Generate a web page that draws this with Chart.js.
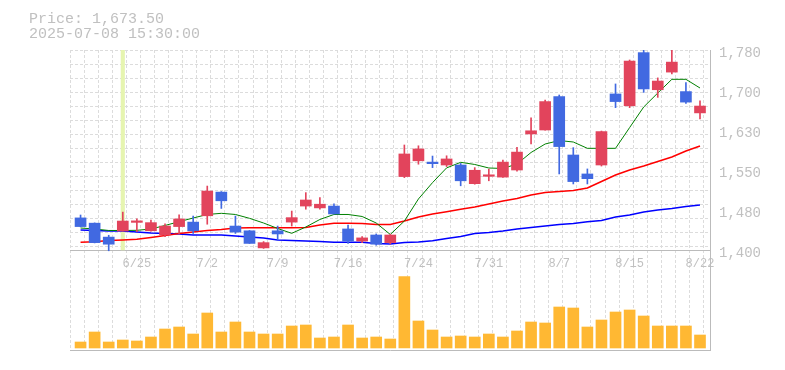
<!DOCTYPE html>
<html><head><meta charset="utf-8">
<script src="https://cdn.jsdelivr.net/npm/chart.js@4/dist/chart.umd.min.js"></script>
<style>html,body{margin:0;padding:0;background:#fff;}canvas{display:block;}</style>
</head><body>
<canvas id="c" width="785" height="370"></canvas>
<script>
const dates = ['6/19','6/20','6/23','6/24','6/25','6/26','6/27','6/30','7/1','7/2','7/3','7/4','7/7','7/8','7/9','7/10','7/11','7/14','7/15','7/16','7/17','7/18','7/22','7/23','7/24','7/25','7/28','7/29','7/30','7/31','8/1','8/4','8/5','8/6','8/7','8/8','8/12','8/13','8/14','8/15','8/18','8/19','8/20','8/21','8/22'];
const opens  = [1461,1451,1424.5,1436,1452.5,1436.5,1428.5,1444.5,1453,1465,1510,1445.5,1436.5,1404,1436.5,1453,1483.5,1480,1483.5,1440,1417,1428.5,1414,1539.5,1569.5,1567,1561.5,1561.5,1526,1540,1538.5,1552,1620.5,1628,1691.5,1580.5,1544.5,1561.5,1696.5,1674,1775,1704.5,1738,1701,1660.5];
const highs  = [1466.5,1451.5,1428,1472,1459,1457,1449.5,1467,1464.5,1521.5,1511,1464.5,1437,1416,1445.5,1474,1509,1499.5,1487.5,1447.5,1425.5,1430.5,1430,1599.5,1598,1578.5,1579,1564.5,1556.5,1553.5,1571,1595,1651,1685,1694.5,1594.5,1554,1626,1715.5,1761,1780,1727,1780,1718,1683.5];
const lows   = [1444,1413.5,1398.5,1436,1435,1436,1425.5,1430.5,1431.5,1449,1479,1431.5,1412.5,1403,1419,1445.5,1477.5,1477.5,1468.5,1412.5,1414,1409,1411.5,1537.5,1563,1556.5,1558.5,1522,1525,1531.5,1538,1550,1601.5,1627.5,1544.5,1525.5,1525.5,1559.5,1670.5,1670.5,1699.5,1690,1734.5,1678.5,1649];
const closes = [1444.5,1414,1411,1455,1452.5,1452,1445.5,1459,1436.5,1512,1493.5,1434,1412.5,1414,1430.5,1461.5,1495,1487,1468.5,1417,1423,1411,1428.5,1582.5,1592,1564,1573,1531.5,1551.5,1542.5,1567,1586,1626.5,1682,1596.5,1530,1535.5,1625,1682,1759,1706,1721,1757,1681,1673.5];
const ma5  = [1441.8,1439.9,1437.1,1437.1,1437.4,1439.9,1446.6,1453.8,1460.8,1467.5,1469.7,1467.5,1460.2,1451.3,1440.9,1431.7,1443.7,1458,1467.5,1467.5,1463.7,1451.3,1429.5,1455,1497,1528,1556,1566.6,1562.5,1555.8,1554.9,1563.4,1585.3,1601.4,1608,1605.2,1593.2,1593.2,1593.2,1632.6,1671.7,1698.3,1724.3,1724.3,1707.8];
const ma25 = [1414.6,1415.6,1418.1,1419,1420.3,1423.8,1427.6,1431.4,1434.2,1437.1,1439,1441.8,1442.2,1442.4,1442.4,1442.4,1442.8,1447.5,1450.7,1450.7,1450.4,1448.5,1448.5,1455.1,1462.7,1468.4,1472.8,1477.3,1481.7,1487.4,1493.1,1497.9,1504.5,1509.3,1511.2,1513.1,1517.8,1530.2,1542.5,1552,1559.6,1568.2,1576.7,1588.1,1597.6];
const ma75 = [1438,1437.1,1436.1,1436.1,1434.2,1432.3,1431.4,1430.4,1428.5,1428.5,1428.5,1426.6,1424.7,1422.8,1419,1418.1,1417.1,1416.2,1414.6,1414.6,1414.6,1412.4,1411.4,1414.3,1415.2,1417.7,1421.9,1425.7,1431.4,1433.3,1436.1,1439.9,1442.8,1445.6,1448.5,1450.4,1453.8,1456.1,1462.7,1466.5,1472.2,1476,1478.9,1482.7,1485.5];
const volumes = [60,160,60,80,70,110,190,210,140,350,160,260,160,140,140,220,230,100,110,230,100,110,90,713,270,180,110,120,110,140,110,170,260,250,410,400,210,280,360,380,320,220,220,220,130];
const labelIndexes = [4,9,14,19,24,29,34,39,44];
const priceTicks = [1400,1476,1552,1628,1704,1780];
const priceTickLabels = ['1,400','1,480','1,550','1,630','1,700','1,780'];
const headerLines = ['Price: 1,673.50','2025-07-08 15:30:00'];
const markedIndex = 3;
const markedRange = [1400,1780];

const UP = '#e2445c', DOWN = '#4169e1';
const TXT = '#c0c0c0', AXIS = '#bbbbbb', GRID = '#dcdcdc';
const FONT = '"Liberation Mono", monospace';
const candleColors = closes.map((c,i) => c >= opens[i] ? UP : DOWN);
const pts = arr => arr.map((v,i) => ({x:i, y:v}));

const headerPlugin = {
  id: 'header',
  afterDraw(chart) {
    const ctx = chart.ctx;
    ctx.save();
    ctx.font = '15px ' + FONT;
    ctx.fillStyle = TXT;
    ctx.textBaseline = 'alphabetic';
    headerLines.forEach((t,k) => ctx.fillText(t, 29, 23 + k*14.5));
    ctx.restore();
  }
};

new Chart(document.getElementById('c'), {
  type: 'bar',
  data: {
    datasets: [
      { type:'bar', label:'mark', data:[{x:markedIndex, y:markedRange}], backgroundColor:'#e6f5b0',
        barThickness:3.5, grouped:false, yAxisID:'y', xAxisID:'x', order:10 },
      { type:'bar', label:'volume', data:pts(volumes), backgroundColor:'#ffb833',
        barThickness:11, grouped:false, yAxisID:'v', xAxisID:'x', order:9 },
      { type:'line', label:'MA75', data:pts(ma75), borderColor:'#0000ff', borderWidth:1.6, pointRadius:0,
        tension:0, fill:false, yAxisID:'y', xAxisID:'x', order:8 },
      { type:'line', label:'MA25', data:pts(ma25), borderColor:'#ff0000', borderWidth:1.6, pointRadius:0,
        tension:0, fill:false, yAxisID:'y', xAxisID:'x', order:7 },
      { type:'line', label:'MA5', data:pts(ma5), borderColor:'#008000', borderWidth:1, pointRadius:0,
        tension:0, fill:false, yAxisID:'y', xAxisID:'x', order:6 },
      { type:'bar', label:'wick', data:lows.map((l,i)=>({x:i, y:[l, highs[i]]})), backgroundColor:candleColors,
        barThickness:1, grouped:false, yAxisID:'y', xAxisID:'x', order:5 },
      { type:'bar', label:'body', data:opens.map((o,i)=>({x:i, y:[o, closes[i]]})), backgroundColor:candleColors,
        barThickness:11, minBarLength:1.5, grouped:false, yAxisID:'y', xAxisID:'x', order:4 }
    ]
  },
  options: {
    responsive:false, animation:false, devicePixelRatio:1, events:[],
    layout:{ padding:{ left:70, top:50, right:0, bottom:20 } },
    plugins:{ legend:{display:false}, tooltip:{enabled:false}, title:{display:false} },
    scales:{
      gx:{ type:'linear', axis:'x', position:'bottom', min:0, max:45.4545, offset:false,
        afterBuildTicks:s=>{ s.ticks = Array.from({length:46},(_,k)=>({value:k})); },
        ticks:{display:false}, grid:{color:GRID, lineWidth:1, drawTicks:false, offset:false},
        border:{display:true, color:AXIS, width:1, dash:[3,2]} },
      gy:{ type:'linear', axis:'y', position:'left', min:0, max:300/14, reverse:true, offset:false,
        afterBuildTicks:s=>{ s.ticks = Array.from({length:15},(_,k)=>({value:k})); },
        ticks:{display:false}, grid:{color:GRID, lineWidth:1, drawTicks:false},
        border:{display:false, dash:[3,2]} },
      x:{ type:'linear', axis:'x', position:{y:1400}, min:-0.75, max:44.71, offset:false,
        afterBuildTicks:s=>{ s.ticks = labelIndexes.map(i=>({value:i})); },
        ticks:{ callback:v=>dates[v], color:TXT, font:{family:FONT, size:12}, maxRotation:0, autoSkip:false, padding:7 },
        grid:{display:false, drawTicks:false},
        border:{display:true, color:AXIS, width:1} },
      y:{ type:'linear', axis:'y', position:'right', min:1210, max:1780, offset:false,
        afterBuildTicks:s=>{ s.ticks = priceTicks.map(v=>({value:v})); },
        afterFit:s=>{ s.width = 75; },
        ticks:{ callback:v=>priceTickLabels[priceTicks.indexOf(v)], color:TXT, font:{family:FONT, size:14}, padding:9, labelOffset:3 },
        grid:{display:false, drawTicks:false},
        border:{display:true, color:AXIS, width:1} },
      v:{ type:'linear', axis:'y', position:'left', display:false, min:-20, max:2980 }
    }
  },
  plugins:[headerPlugin]
});
</script>
</body></html>
